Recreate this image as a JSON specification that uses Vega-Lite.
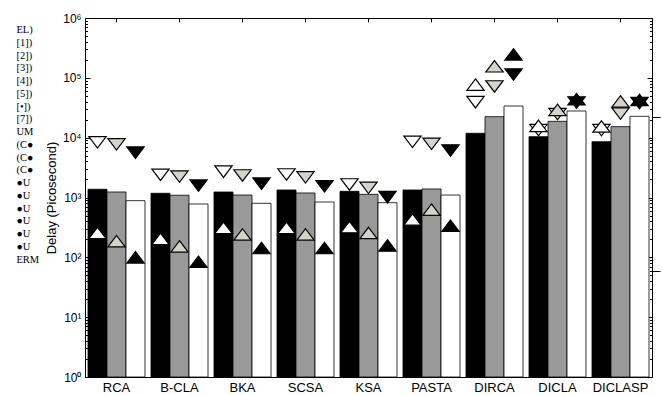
{
  "$schema": "https://vega.github.io/schema/vega-lite/v6.json",
  "width": 567,
  "height": 359,
  "autosize": {"type": "none"},
  "padding": {"left": 85, "top": 18, "right": 10, "bottom": 18},
  "config": {
    "view": {"stroke": "black", "strokeWidth": 1},
    "font": "Liberation Sans",
    "axis": {"grid": false, "domainColor": "black", "tickColor": "black", "labelColor": "black", "titleColor": "black"}
  },
  "datasets": {
    "delay": [
      {"adder": "RCA", "series": "s1", "value": 1372},
      {"adder": "RCA", "series": "s2", "value": 1236},
      {"adder": "RCA", "series": "s3", "value": 885},
      {"adder": "B-CLA", "series": "s1", "value": 1176},
      {"adder": "B-CLA", "series": "s2", "value": 1090},
      {"adder": "B-CLA", "series": "s3", "value": 779},
      {"adder": "BKA", "series": "s1", "value": 1236},
      {"adder": "BKA", "series": "s2", "value": 1100},
      {"adder": "BKA", "series": "s3", "value": 800},
      {"adder": "SCSA", "series": "s1", "value": 1335},
      {"adder": "SCSA", "series": "s2", "value": 1190},
      {"adder": "SCSA", "series": "s3", "value": 841},
      {"adder": "KSA", "series": "s1", "value": 1268},
      {"adder": "KSA", "series": "s2", "value": 1130},
      {"adder": "KSA", "series": "s3", "value": 819},
      {"adder": "PASTA", "series": "s1", "value": 1335},
      {"adder": "PASTA", "series": "s2", "value": 1387},
      {"adder": "PASTA", "series": "s3", "value": 1100},
      {"adder": "DIRCA", "series": "s1", "value": 11830},
      {"adder": "DIRCA", "series": "s2", "value": 22440},
      {"adder": "DIRCA", "series": "s3", "value": 33800},
      {"adder": "DICLA", "series": "s1", "value": 10400},
      {"adder": "DICLA", "series": "s2", "value": 18750},
      {"adder": "DICLA", "series": "s3", "value": 27900},
      {"adder": "DICLASP", "series": "s1", "value": 8570},
      {"adder": "DICLASP", "series": "s2", "value": 15270},
      {"adder": "DICLASP", "series": "s3", "value": 22750}
    ],
    "markers": [
      {"adder": "RCA", "series": "s1", "kind": "down", "value": 8340},
      {"adder": "RCA", "series": "s1", "kind": "up", "value": 255},
      {"adder": "RCA", "series": "s2", "kind": "down", "value": 7720},
      {"adder": "RCA", "series": "s2", "kind": "up", "value": 186},
      {"adder": "RCA", "series": "s3", "kind": "down", "value": 5610},
      {"adder": "RCA", "series": "s3", "kind": "up", "value": 100},
      {"adder": "B-CLA", "series": "s1", "kind": "down", "value": 2400},
      {"adder": "B-CLA", "series": "s1", "kind": "up", "value": 204},
      {"adder": "B-CLA", "series": "s2", "kind": "down", "value": 2230},
      {"adder": "B-CLA", "series": "s2", "kind": "up", "value": 152},
      {"adder": "B-CLA", "series": "s3", "kind": "down", "value": 1577},
      {"adder": "B-CLA", "series": "s3", "kind": "up", "value": 84.5},
      {"adder": "BKA", "series": "s1", "kind": "down", "value": 2700},
      {"adder": "BKA", "series": "s1", "kind": "up", "value": 312},
      {"adder": "BKA", "series": "s2", "kind": "down", "value": 2333},
      {"adder": "BKA", "series": "s2", "kind": "up", "value": 241},
      {"adder": "BKA", "series": "s3", "kind": "down", "value": 1702},
      {"adder": "BKA", "series": "s3", "kind": "up", "value": 143},
      {"adder": "SCSA", "series": "s1", "kind": "down", "value": 2425},
      {"adder": "SCSA", "series": "s1", "kind": "up", "value": 312},
      {"adder": "SCSA", "series": "s2", "kind": "down", "value": 2178},
      {"adder": "SCSA", "series": "s2", "kind": "up", "value": 241},
      {"adder": "SCSA", "series": "s3", "kind": "down", "value": 1545},
      {"adder": "SCSA", "series": "s3", "kind": "up", "value": 143},
      {"adder": "KSA", "series": "s1", "kind": "down", "value": 1650},
      {"adder": "KSA", "series": "s1", "kind": "up", "value": 321},
      {"adder": "KSA", "series": "s2", "kind": "down", "value": 1452},
      {"adder": "KSA", "series": "s2", "kind": "up", "value": 255},
      {"adder": "KSA", "series": "s3", "kind": "down", "value": 1012},
      {"adder": "KSA", "series": "s3", "kind": "up", "value": 158},
      {"adder": "PASTA", "series": "s1", "kind": "down", "value": 8530},
      {"adder": "PASTA", "series": "s1", "kind": "up", "value": 429},
      {"adder": "PASTA", "series": "s2", "kind": "down", "value": 7890},
      {"adder": "PASTA", "series": "s2", "kind": "up", "value": 626},
      {"adder": "PASTA", "series": "s3", "kind": "down", "value": 6110},
      {"adder": "PASTA", "series": "s3", "kind": "up", "value": 337},
      {"adder": "DIRCA", "series": "s1", "kind": "down", "value": 39200},
      {"adder": "DIRCA", "series": "s1", "kind": "up", "value": 76900},
      {"adder": "DIRCA", "series": "s2", "kind": "down", "value": 71800},
      {"adder": "DIRCA", "series": "s2", "kind": "up", "value": 156000},
      {"adder": "DIRCA", "series": "s3", "kind": "down", "value": 113700},
      {"adder": "DIRCA", "series": "s3", "kind": "up", "value": 247000},
      {"adder": "DICLA", "series": "s1", "kind": "down", "value": 13370},
      {"adder": "DICLA", "series": "s1", "kind": "up", "value": 15770},
      {"adder": "DICLA", "series": "s2", "kind": "down", "value": 24730},
      {"adder": "DICLA", "series": "s2", "kind": "up", "value": 29170},
      {"adder": "DICLA", "series": "s3", "kind": "down", "value": 38730},
      {"adder": "DICLA", "series": "s3", "kind": "up", "value": 43950},
      {"adder": "DICLASP", "series": "s1", "kind": "down", "value": 13370},
      {"adder": "DICLASP", "series": "s1", "kind": "up", "value": 15380},
      {"adder": "DICLASP", "series": "s2", "kind": "down", "value": 25200},
      {"adder": "DICLASP", "series": "s2", "kind": "up", "value": 40300},
      {"adder": "DICLASP", "series": "s3", "kind": "down", "value": 37760},
      {"adder": "DICLASP", "series": "s3", "kind": "up", "value": 42860}
    ],
    "notes": [
      {"note": "01|EL)"},
      {"note": "02|[1])"},
      {"note": "03|[2])"},
      {"note": "04|[3])"},
      {"note": "05|[4])"},
      {"note": "06|[5])"},
      {"note": "07|[•])"},
      {"note": "08|[7])"},
      {"note": "09|UM"},
      {"note": "10|(C●"},
      {"note": "11|(C●"},
      {"note": "12|(C●"},
      {"note": "13|●U"},
      {"note": "14|●U"},
      {"note": "15|●U"},
      {"note": "16|●U"},
      {"note": "17|●U"},
      {"note": "18|●U"},
      {"note": "19|ERM"}
    ]
  },
  "layer": [
    {
      "data": {"name": "delay"},
      "mark": {"type": "bar", "stroke": "black", "strokeWidth": 0.8},
      "encoding": {
        "x": {
          "field": "adder", "type": "nominal",
          "sort": ["RCA", "B-CLA", "BKA", "SCSA", "KSA", "PASTA", "DIRCA", "DICLA", "DICLASP"],
          "scale": {"paddingInner": 0.095, "paddingOuter": 0.0475},
          "axis": {"orient": "bottom", "title": null, "labelAngle": 0, "labelFontSize": 13, "tickSize": -4, "labelPadding": 8, "offset": 0}
        },
        "xOffset": {"field": "series", "type": "nominal", "scale": {"domain": ["s1", "s2", "s3"]}},
        "y": {
          "field": "value", "type": "quantitative",
          "scale": {"type": "log", "domain": [1, 1000000]},
          "axis": {
            "orient": "left", "offset": 0,
            "values": [1,2,3,4,5,6,7,8,9,10,20,30,40,50,60,70,80,90,100,200,300,400,500,600,700,800,900,1000,2000,3000,4000,5000,6000,7000,8000,9000,10000,20000,30000,40000,50000,60000,70000,80000,90000,100000,200000,300000,400000,500000,600000,700000,800000,900000,1000000],
            "labelExpr": "abs(log(datum.value)/LN10 - round(log(datum.value)/LN10)) < 0.000001 ? '10' + ['⁰','¹','²','³','⁴','⁵','⁶'][round(log(datum.value)/LN10)] : ''",
            "labelOverlap": false,
            "labelFlush": false,
            "labelFontSize": 12,
            "tickSize": {"condition": {"test": "abs(log(datum.value)/LN10 - round(log(datum.value)/LN10)) < 0.000001", "value": -5}, "value": -2.5},
            "labelPadding": 9,
            "title": "Delay (Picosecond)",
            "titleFontSize": 13,
            "titleFontWeight": "normal",
            "titlePadding": 4
          }
        },
        "y2": {"datum": 1},
        "fill": {"field": "series", "type": "nominal", "scale": {"domain": ["s1", "s2", "s3"], "range": ["#000000", "#999999", "#ffffff"]}, "legend": null}
      }
    },
    {
      "data": {"name": "markers"},
      "transform": [{"filter": "datum.kind == 'down'"}],
      "mark": {"type": "point", "shape": "M-1,-0.66L1,-0.66L0,0.66Z", "size": 300, "filled": true, "opacity": 1, "stroke": "black", "strokeWidth": 1.2},
      "encoding": {
        "x": {"field": "adder", "type": "nominal", "sort": ["RCA", "B-CLA", "BKA", "SCSA", "KSA", "PASTA", "DIRCA", "DICLA", "DICLASP"], "axis": null},
        "xOffset": {"field": "series", "type": "nominal", "scale": {"domain": ["s1", "s2", "s3"]}},
        "y": {
          "field": "value", "type": "quantitative",
          "scale": {"type": "log", "domain": [1, 1000000]},
          "axis": {
            "orient": "right", "offset": 0, "title": null, "labels": false, "domain": false,
            "values": [1,2,3,4,5,6,7,8,9,10,20,30,40,50,59.1,60,70,80,90,100,200,300,400,500,600,700,800,900,1000,2000,3000,4000,5000,6000,7000,8000,9000,10000,20000,22180,30000,40000,50000,60000,70000,80000,90000,100000,200000,300000,400000,500000,600000,700000,800000,900000,1000000],
            "tickSize": {"condition": [{"test": "datum.value == 22180 || datum.value == 59.1", "value": 8}, {"test": "abs(log(datum.value)/LN10 - round(log(datum.value)/LN10)) < 0.000001", "value": -5}], "value": -2.5}
          }
        },
        "fill": {"field": "series", "type": "nominal", "scale": {"domain": ["s1", "s2", "s3"], "range": ["#ffffff", "#d6d3cc", "#000000"]}, "legend": null}
      }
    },
    {
      "data": {"name": "markers"},
      "transform": [{"filter": "datum.kind == 'up'"}],
      "mark": {"type": "point", "shape": "M0,-0.66L1,0.66L-1,0.66Z", "size": 300, "filled": true, "opacity": 1, "stroke": "black", "strokeWidth": 1.2},
      "encoding": {
        "x": {"field": "adder", "type": "nominal", "sort": ["RCA", "B-CLA", "BKA", "SCSA", "KSA", "PASTA", "DIRCA", "DICLA", "DICLASP"],
              "axis": {"orient": "top", "offset": 0, "title": null, "labels": false, "domain": false, "tickSize": -4}},
        "xOffset": {"field": "series", "type": "nominal", "scale": {"domain": ["s1", "s2", "s3"]}},
        "y": {"field": "value", "type": "quantitative", "scale": {"type": "log", "domain": [1, 1000000]}, "axis": null},
        "fill": {"field": "series", "type": "nominal", "scale": {"domain": ["s1", "s2", "s3"], "range": ["#ffffff", "#d6d3cc", "#000000"]}, "legend": null}
      }
    },
    {
      "data": {"name": "notes"},
      "mark": {"type": "point", "opacity": 0},
      "encoding": {
        "shape": {
          "field": "note", "type": "nominal",
          "legend": {
            "orient": "none", "legendX": -83.6, "legendY": 5,
            "title": null, "padding": 0, "rowPadding": 0,
            "symbolSize": 159.5, "symbolOpacity": 0, "symbolStrokeWidth": 0,
            "labelExpr": "split(datum.label, '|')[1]",
            "labelFont": "Liberation Serif", "labelFontSize": 10.5, "labelColor": "black",
            "labelOffset": 2
          }
        }
      }
    }
  ],
  "resolve": {
    "scale": {"fill": "independent"},
    "axis": {"x": "independent", "y": "independent"}
  }
}
